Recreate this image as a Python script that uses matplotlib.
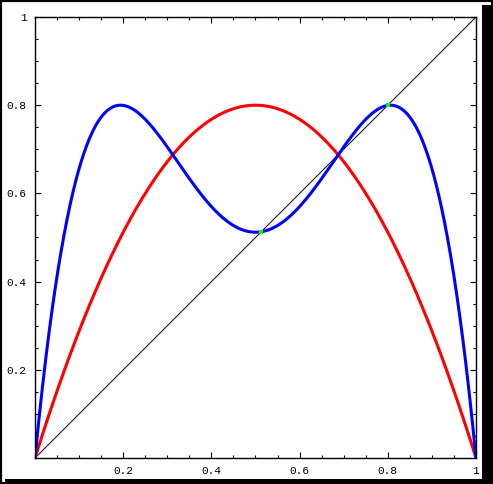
import numpy as np
import matplotlib
matplotlib.use("Agg")
import matplotlib.pyplot as plt
from matplotlib.patches import Rectangle

# Logistic map parameter (peak of red curve = r/4 = 0.8)
r = 3.2
x_range = (0.0, 1.0)
tick_values = [0.2, 0.4, 0.6, 0.8, 1.0]
tick_labels = ["0.2", "0.4", "0.6", "0.8", "1"]

def f(x):
    return r * x * (1 - x)

x = np.linspace(x_range[0], x_range[1], 1001)
fx = f(x)
ffx = f(fx)
# 2-cycle points (fixed points of f∘f other than the fixed points of f)
disc = np.sqrt((r + 1) * (r - 3))
cycle = np.array([(r + 1 - disc) / (2 * r), (r + 1 + disc) / (2 * r)])

W, H = 493, 484
fig = plt.figure(figsize=(W / 100, H / 100), dpi=100)
fig.patch.set_facecolor("white")

# outer frame with shadow
fig.add_artist(Rectangle((0, 0), 1, 1, transform=fig.transFigure, fill=False,
                         edgecolor="black", linewidth=3))
fig.add_artist(Rectangle((482 / W, 0), 11 / W, 1 - 5 / H, transform=fig.transFigure,
                         facecolor="black", edgecolor="none"))
fig.add_artist(Rectangle((5 / W, 0), 1 - 5 / W, 5 / H, transform=fig.transFigure,
                         facecolor="black", edgecolor="none"))

ax = fig.add_axes([35 / W, (H - 458) / H, 441 / W, 441 / H])
ax.plot(x, x, color="black", linewidth=0.7)
ax.plot(x, fx, color="#ff0000", linewidth=2.2, solid_capstyle="butt")
ax.plot(x, ffx, color="#0000ff", linewidth=2.2, solid_capstyle="butt")
ax.plot(cycle, f(f(cycle)), linestyle="none", marker="s", markersize=3,
        color="#00ff00", markeredgewidth=0)

ax.set_xlim(*x_range)
ax.set_ylim(*x_range)
ax.set_xticks(tick_values)
ax.set_xticklabels(tick_labels)
ax.set_yticks(tick_values)
ax.set_yticklabels(tick_labels)
ax.set_xticks(np.arange(0, 1.0001, 0.05), minor=True)
ax.set_yticks(np.arange(0, 1.0001, 0.05), minor=True)
ax.tick_params(which="both", direction="in", top=True, right=True, width=0.8,
               color="black")
ax.tick_params(which="major", length=4.5, labelsize=8, pad=6)
ax.tick_params(which="minor", length=2.5)
for lab in ax.get_xticklabels() + ax.get_yticklabels():
    lab.set_family(["Liberation Mono", "DejaVu Sans Mono"])
for s in ax.spines.values():
    s.set_linewidth(1.0)

fig.savefig("out.png", dpi=100)
